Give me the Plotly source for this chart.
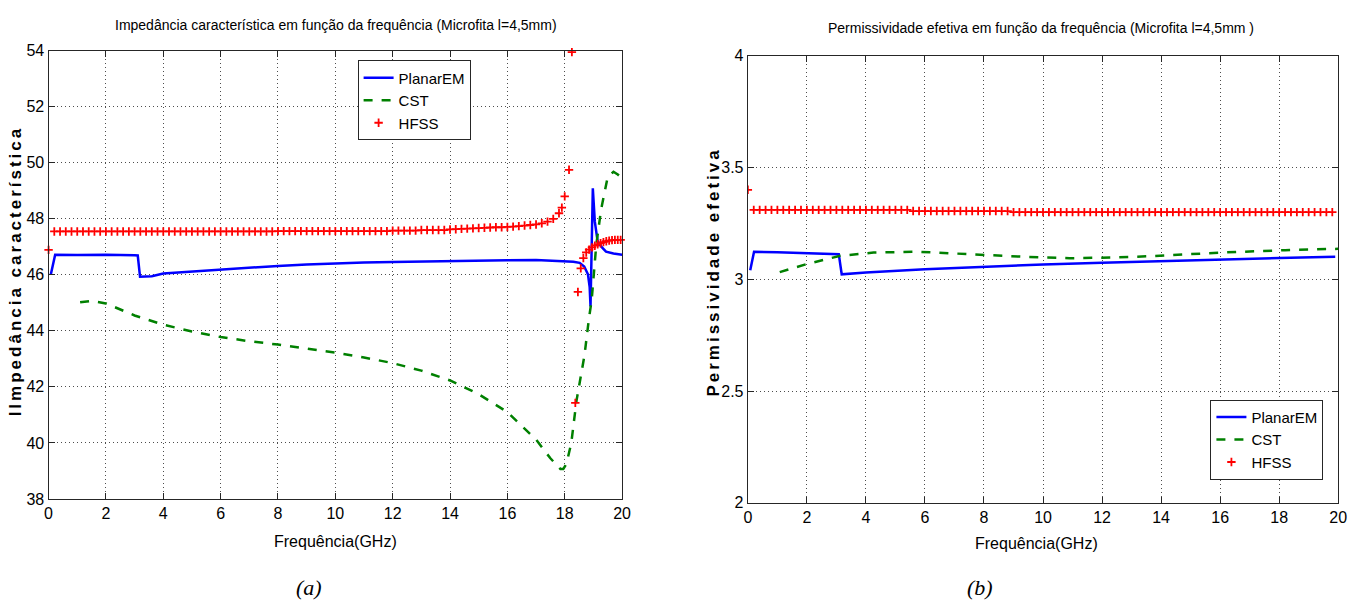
import plotly.graph_objects as go

# ---------------- (a) Impedância característica ----------------
planar_f_a = [0.08, 0.23, 1.0, 2.0, 3.0, 3.11, 3.19, 3.6, 4.0, 5.0, 6.0, 7.0, 8.0, 9.0, 10.0,
              11.0, 12.0, 13.0, 14.0, 15.0, 16.0, 17.0, 17.9, 18.3, 18.52, 18.68, 18.81, 18.87,
              18.9, 18.98, 19.05, 19.15, 19.3, 19.44, 19.7, 20.0]
planar_z = [46.02, 46.72, 46.71, 46.72, 46.70, 46.69, 45.93, 45.95, 46.05, 46.12, 46.18, 46.27,
            46.32, 46.37, 46.41, 46.44, 46.46, 46.48, 46.50, 46.51, 46.52, 46.53, 46.50, 46.47,
            46.43, 46.30, 46.02, 45.56, 44.87, 49.09, 47.90, 47.18, 46.98, 46.83, 46.76, 46.72]

cst_f_a = [1.1, 1.5, 2.0, 3.0, 4.0, 5.0, 6.0, 7.0, 8.0, 9.0, 10.0, 11.0, 12.0, 13.0, 14.0, 15.0,
           16.0, 17.0, 17.5, 17.85, 17.95, 18.06, 18.23, 18.41, 18.55, 18.69, 18.84, 18.94,
           19.1, 19.27, 19.5, 19.7, 19.85, 20.0]
cst_z = [45.02, 45.07, 44.98, 44.55, 44.22, 43.98, 43.78, 43.63, 43.51, 43.37, 43.22, 43.05,
         42.85, 42.58, 42.23, 41.74, 41.10, 40.12, 39.45, 39.07, 39.07, 39.25, 40.00, 41.50,
         42.40, 43.13, 44.40, 45.10, 47.07, 48.34, 49.50, 49.68, 49.58, 49.45]

hfss_f_a = [0.0,
            0.2, 0.4, 0.6, 0.8, 1.0, 1.2, 1.4, 1.6, 1.8, 2.0, 2.2, 2.4, 2.6, 2.8, 3.0, 3.2, 3.4,
            3.6, 3.8, 4.0, 4.2, 4.4, 4.6, 4.8, 5.0, 5.2, 5.4, 5.6, 5.8, 6.0, 6.2, 6.4, 6.6, 6.8,
            7.0, 7.2, 7.4, 7.6, 7.8, 8.0, 8.2, 8.4, 8.6, 8.8, 9.0, 9.2, 9.4, 9.6, 9.8, 10.0,
            10.2, 10.4, 10.6, 10.8, 11.0, 11.2, 11.4, 11.6, 11.8, 12.0, 12.2, 12.4, 12.6, 12.8,
            13.0, 13.2, 13.4, 13.6, 13.8, 14.0, 14.2, 14.4, 14.6, 14.8, 15.0, 15.2, 15.4, 15.6,
            15.8, 16.0, 16.2, 16.4, 16.6, 16.8, 17.0, 17.2, 17.4, 17.6, 17.8,
            17.9, 18.0, 18.15, 18.25, 18.37, 18.46, 18.56, 18.65, 18.75, 18.85, 18.95, 19.05,
            19.15, 19.25, 19.35, 19.45, 19.55, 19.65, 19.75, 19.85, 19.95]
hfss_z = [46.89,
          47.55, 47.55, 47.55, 47.55, 47.55, 47.55, 47.55, 47.55, 47.55, 47.55, 47.55, 47.55,
          47.55, 47.55, 47.55, 47.55, 47.55, 47.55, 47.55, 47.55, 47.55, 47.55, 47.55, 47.55,
          47.55, 47.55, 47.55, 47.55, 47.55, 47.55, 47.55, 47.55, 47.55, 47.55, 47.55, 47.55,
          47.55, 47.55, 47.55,
          47.56, 47.56, 47.56, 47.56, 47.56, 47.56, 47.56, 47.56, 47.56, 47.56, 47.56, 47.56,
          47.56, 47.56, 47.56, 47.56, 47.56, 47.56, 47.56, 47.56,
          47.58, 47.58, 47.58, 47.58, 47.58, 47.60, 47.60, 47.60, 47.60, 47.60,
          47.62, 47.63, 47.64, 47.65, 47.66, 47.67, 47.68, 47.69, 47.70, 47.70,
          47.71, 47.72, 47.74, 47.76, 47.78, 47.80, 47.84, 47.90, 48.00, 48.20,
          48.40, 48.80, 49.75, 53.95, 41.43, 45.39, 46.23, 46.60, 46.80, 46.90, 46.98, 47.04,
          47.09, 47.13, 47.17, 47.20, 47.22, 47.24, 47.25, 47.25, 47.25]

# ---------------- (b) Permissividade efetiva ----------------
planar_f_b = [0.08, 0.21, 1.0, 2.0, 3.08, 3.18, 4.0, 6.0, 8.0, 10.0, 12.0, 14.0, 16.0, 18.0, 19.9]
planar_e = [3.040, 3.123, 3.121, 3.118, 3.112, 3.022, 3.030, 3.045, 3.057, 3.066, 3.074, 3.082,
            3.089, 3.095, 3.100]

cst_f_b = [1.08, 2.0, 3.1, 4.26, 5.74, 7.2, 8.5, 9.41, 10.9, 12.35, 13.8, 16.0, 18.2, 19.9, 20.0]
cst_e = [3.032, 3.068, 3.104, 3.119, 3.123, 3.114, 3.105, 3.100, 3.094, 3.097, 3.104, 3.119,
         3.130, 3.136, 3.136]

hfss_f_b = [0.0,
            0.2, 0.4, 0.6, 0.8, 1.0, 1.2, 1.4, 1.6, 1.8, 2.0, 2.2, 2.4, 2.6, 2.8, 3.0, 3.2, 3.4,
            3.6, 3.8, 4.0, 4.2, 4.4, 4.6, 4.8, 5.0, 5.2, 5.4,
            5.6, 5.8, 6.0, 6.2, 6.4, 6.6, 6.8, 7.0, 7.2, 7.4, 7.6, 7.8, 8.0, 8.2, 8.4, 8.6, 8.8,
            9.0, 9.2, 9.4, 9.6, 9.8, 10.0, 10.2, 10.4, 10.6, 10.8, 11.0, 11.2, 11.4, 11.6, 11.8,
            12.0, 12.2, 12.4, 12.6, 12.8, 13.0, 13.2, 13.4, 13.6, 13.8, 14.0, 14.2, 14.4, 14.6,
            14.8, 15.0, 15.2, 15.4, 15.6, 15.8, 16.0, 16.2, 16.4, 16.6, 16.8, 17.0, 17.2, 17.4,
            17.6, 17.8, 18.0, 18.2, 18.4, 18.6, 18.8, 19.0, 19.2, 19.4, 19.6, 19.8]
hfss_e = [3.400,
          3.310, 3.310, 3.310, 3.310, 3.310, 3.310, 3.310, 3.310, 3.310, 3.310, 3.310, 3.310,
          3.310, 3.310, 3.310, 3.310, 3.310, 3.310, 3.310, 3.310, 3.310, 3.310, 3.310, 3.310,
          3.310, 3.310, 3.310,
          3.305, 3.305, 3.305, 3.305, 3.305, 3.305, 3.305, 3.305, 3.305, 3.305, 3.305, 3.305,
          3.305, 3.305, 3.305, 3.305, 3.305,
          3.300, 3.300, 3.300, 3.300, 3.300, 3.300, 3.300, 3.300, 3.300, 3.300, 3.300, 3.300,
          3.300, 3.300, 3.300, 3.300, 3.300, 3.300, 3.300, 3.300, 3.300, 3.300, 3.300, 3.300,
          3.300, 3.300, 3.300, 3.300, 3.300, 3.300, 3.300, 3.300, 3.300, 3.300, 3.300, 3.300,
          3.300, 3.300, 3.300, 3.300, 3.300, 3.300, 3.300, 3.300, 3.300, 3.300, 3.300, 3.300,
          3.300, 3.300, 3.300, 3.300, 3.300, 3.300, 3.300]

x_ticks = [0, 2, 4, 6, 8, 10, 12, 14, 16, 18, 20]
y_ticks_a = [38, 40, 42, 44, 46, 48, 50, 52, 54]
y_ticks_b = [2, 2.5, 3, 3.5, 4]
y_ticktext_b = ["2", "2.5", "3", "3.5", "4"]

SANS = "Liberation Sans, Arial, sans-serif"
W, H = 1367, 610

fig = go.Figure()

line_blue = dict(color="#0000ff", width=2.5)
line_green = dict(color="#008000", width=2.5, dash="dash")
mark_red = dict(symbol="cross-thin-open", size=6, color="#ff0000",
                line=dict(color="#ff0000", width=1.8))

fig.add_trace(go.Scatter(x=planar_f_a, y=planar_z, mode="lines", name="PlanarEM",
                         line=line_blue, xaxis="x", yaxis="y", legend="legend"))
fig.add_trace(go.Scatter(x=cst_f_a, y=cst_z, mode="lines", name="CST",
                         line=line_green, xaxis="x", yaxis="y", legend="legend"))
fig.add_trace(go.Scatter(x=hfss_f_a, y=hfss_z, mode="markers", name="HFSS",
                         marker=mark_red, xaxis="x", yaxis="y", legend="legend", cliponaxis=False))

fig.add_trace(go.Scatter(x=planar_f_b, y=planar_e, mode="lines", name="PlanarEM",
                         line=line_blue, xaxis="x2", yaxis="y2", legend="legend2"))
fig.add_trace(go.Scatter(x=cst_f_b, y=cst_e, mode="lines", name="CST",
                         line=line_green, xaxis="x2", yaxis="y2", legend="legend2"))
fig.add_trace(go.Scatter(x=hfss_f_b, y=hfss_e, mode="markers", name="HFSS",
                         marker=mark_red, xaxis="x2", yaxis="y2", legend="legend2"))

axis_common = dict(
    showline=True, linecolor="#262626", linewidth=1.3, mirror="ticks",
    ticks="inside", ticklen=6, tickcolor="#262626", tickwidth=1.2,
    showgrid=True, gridcolor="#4d4d4d", griddash="1px,3px", gridwidth=1,
    zeroline=False, tickfont=dict(family=SANS, size=16, color="black"),
)

fig.update_layout(
    width=W, height=H,
    margin=dict(l=0, r=0, t=0, b=0),
    paper_bgcolor="white", plot_bgcolor="white",
    xaxis=dict(domain=[45 / W, 624 / W], range=[0, 20], tickvals=x_ticks, anchor="y", **axis_common),
    yaxis=dict(domain=[1 - 505 / H, 1 - 44 / H], range=[38, 54], tickvals=y_ticks_a, anchor="x", **axis_common),
    xaxis2=dict(domain=[751 / W, 1347 / W], range=[0, 20], tickvals=x_ticks, anchor="y2", **axis_common),
    yaxis2=dict(domain=[1 - 509 / H, 1 - 49 / H], range=[2, 4], tickvals=y_ticks_b,
                ticktext=y_ticktext_b, anchor="x2", **axis_common),
    legend=dict(x=357 / W, y=1 - 54 / H, xanchor="left", yanchor="top",
                bgcolor="white", bordercolor="#262626", borderwidth=1,
                font=dict(family=SANS, size=15, color="black"), itemwidth=30,
                tracegroupgap=0),
    legend2=dict(x=1218 / W, y=1 - 403 / H, xanchor="left", yanchor="top",
                 bgcolor="white", bordercolor="#262626", borderwidth=1,
                 font=dict(family=SANS, size=15, color="black"), itemwidth=30,
                 tracegroupgap=0),
    showlegend=True,
)

def ann(text, x, y, size, family=SANS, angle=0, weight="normal", style="normal"):
    fig.add_annotation(text=text, x=x / W, y=1 - y / H, xref="paper", yref="paper",
                       showarrow=False, textangle=angle, xanchor="center", yanchor="middle",
                       font=dict(family=family, size=size, color="black", weight=weight, style=style))

ann("Impedância característica em função da frequência (Microfita l=4,5mm)", 335, 18, 14)
ann("Permissividade efetiva em função da frequência (Microfita l=4,5mm )", 1047, 21, 14)
ann("Frequência(GHz)", 335, 549, 16)
ann("Frequência(GHz)", 1042, 551, 16)
ann('<span style="letter-spacing:3px">Ilmpedância característica</span>', 12, 270, 17,
    angle=-90, weight="bold")
ann('<span style="letter-spacing:3px">Permissividade efetiva</span>', 716, 272, 17,
    angle=-90, weight="bold")
ann("(a)", 308, 596, 22, family="Liberation Serif, Times New Roman, serif", style="italic")
ann("(b)", 985, 596, 22, family="Liberation Serif, Times New Roman, serif", style="italic")

fig.write_html("out.html")
